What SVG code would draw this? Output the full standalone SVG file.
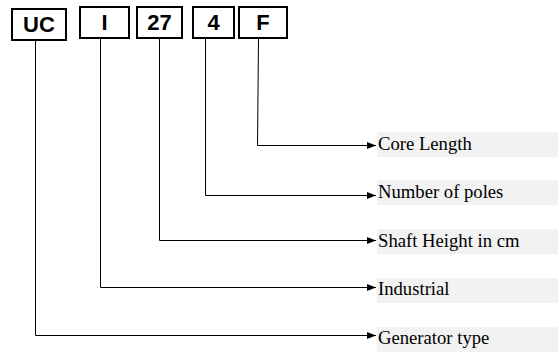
<svg xmlns="http://www.w3.org/2000/svg" width="559" height="352" viewBox="0 0 559 352">
<style>
.box{fill:#fff;stroke:#000;stroke-width:2}
.bt{font-family:"Liberation Sans",Arial,sans-serif;font-weight:bold;font-size:22px;text-anchor:middle;fill:#000}
.bg{fill:#f2f2f2}
.lt{font-family:"Liberation Serif","Times New Roman",serif;font-size:18.67px;fill:#000}
.c{fill:none;stroke:#000;stroke-width:1}
</style>
<defs>
<marker id="ah" markerWidth="9" markerHeight="7" refX="9" refY="3.5" orient="auto" markerUnits="userSpaceOnUse">
<path d="M0,0 L9,3.5 L0,7 Z" fill="#000"/>
</marker>
</defs>
<rect width="559" height="352" fill="#fff"/>
<g id="connectors">
<path class="c" d="M35.5,40 V335.5 H376" marker-end="url(#ah)"/>
<path class="c" d="M100.5,38 V287.5 H376" marker-end="url(#ah)"/>
<path class="c" d="M159.5,39 V240.5 H376" marker-end="url(#ah)"/>
<path class="c" d="M205.5,38 V195.5 H376" marker-end="url(#ah)"/>
<path class="c" d="M258.5,38 L257.5,145.5 H376" marker-end="url(#ah)"/>
</g>
<g id="node-uc"><rect class="box" x="12" y="9" width="54" height="31"/><text class="bt" x="39" y="32">UC</text></g>
<g id="node-i"><rect class="box" x="80" y="7" width="49" height="31"/><text class="bt" x="104.5" y="30">I</text></g>
<g id="node-27"><rect class="box" x="137" y="7" width="45" height="31"/><text class="bt" x="159.5" y="30">27</text></g>
<g id="node-4"><rect class="box" x="193" y="7" width="41" height="31"/><text class="bt" x="213.5" y="30">4</text></g>
<g id="node-f"><rect class="box" x="239" y="7" width="48" height="31"/><text class="bt" x="263" y="30">F</text></g>
<g id="label-core"><rect class="bg" x="377" y="132" width="181" height="25"/><text class="lt" x="378" y="150">Core Length</text></g>
<g id="label-poles"><rect class="bg" x="377" y="180" width="181" height="25"/><text class="lt" x="378" y="197.5">Number of poles</text></g>
<g id="label-shaft"><rect class="bg" x="377" y="229" width="181" height="25"/><text class="lt" x="378" y="246.5">Shaft Height in cm</text></g>
<g id="label-industrial"><rect class="bg" x="377" y="278" width="181" height="25"/><text class="lt" x="378" y="295">Industrial</text></g>
<g id="label-generator"><rect class="bg" x="377" y="327" width="181" height="25"/><text class="lt" x="378" y="344">Generator type</text></g>
</svg>
